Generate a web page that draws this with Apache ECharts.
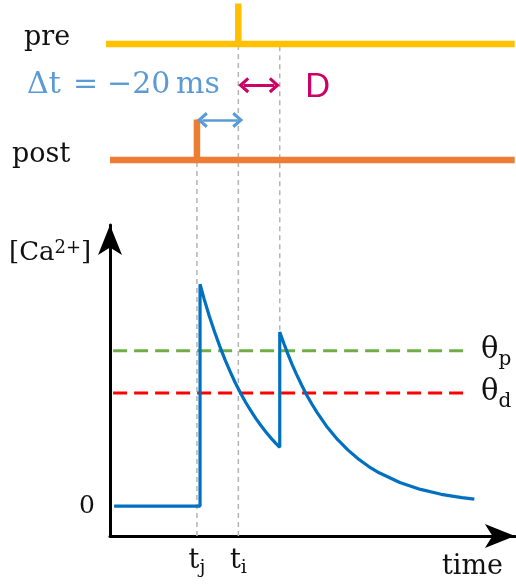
<!DOCTYPE html>
<html>
<head>
<meta charset="utf-8">
<script src="https://cdn.jsdelivr.net/npm/echarts@6/dist/echarts.min.js"></script>
<style>
html,body{margin:0;padding:0;background:#fff;}
#stdp{width:516px;height:584px;}
</style>
</head>
<body>
<div id="stdp"></div>
<script>
// time in ms, calcium in units of the first peak
var caTime  = [2, 43.5, 43.5, 45.5, 48, 50.5, 53, 55.5, 58, 60.5, 63, 65.5, 68, 70.5, 73, 75.5, 78, 80, 82,
               82, 84, 86, 88, 90, 92.5, 95, 97.5, 100, 105, 110, 115, 120, 125, 130, 140, 150, 160, 170, 176];
var caLevel = [0, 0, 1.0, 0.933, 0.856, 0.786, 0.721, 0.661, 0.607, 0.556, 0.511, 0.468, 0.43, 0.394, 0.362, 0.332, 0.304, 0.284, 0.265,
               0.785, 0.733, 0.684, 0.638, 0.596, 0.547, 0.501, 0.46, 0.422, 0.355, 0.299, 0.252, 0.212, 0.178, 0.15, 0.106, 0.075, 0.053, 0.038, 0.031];
var tJ = 42;          // post spike
var tI = 62;          // pre spike
var dWin = 20;        // D
var preSpikes = [tI];
var postSpikes = [tJ];
var thetaNames = ['p', 'd'];
var thetaValues = [0.70, 0.51];
var thetaSpan = [1.5, 171];
var tickTimes = [tJ, tI];
var tickNames = ['j', 'i'];
var dtLabel = ['Δt', '=', '−20', 'ms'];

window.onload = init;
function init() {
    var chart = echarts.init(document.getElementById('stdp'));
    var serif = '"DejaVu Serif", serif';
    var spikeHeight = 0.7;
    var thetaColors = ['#70ad47', '#ff0000'];
    var chevron = 'path://M6,0 L12,8 L10.2,9.8 L6,4.2 L1.8,9.8 L0,8 Z';
    var dtX = [27, 73, 107, 176];

    function raster(start, end, level, spikes) {
        var pts = [[start, level]];
        spikes.forEach(function (t) {
            pts.push([t, level], [t, level + spikeHeight], [t, level]);
        });
        pts.push([end, level]);
        return pts;
    }

    var caData = caTime.map(function (t, i) { return [t, caLevel[i]]; });

    var series = [
        {
            name: 'pre', type: 'line', xAxisIndex: 0, yAxisIndex: 0, clip: false,
            data: raster(-2.4, 195.5, 2, preSpikes), symbol: 'none', z: 4,
            lineStyle: { color: '#ffc000', width: 6.5, join: 'bevel' },
            markLine: {
                silent: true, symbol: [chevron, chevron], symbolSize: [16, 11],
                label: { show: false },
                lineStyle: { color: '#cc0066', width: 3, type: 'solid' },
                data: [[{ coord: [tI + 2.6, 1.29] }, { coord: [tI + dWin - 2.6, 1.29] }]]
            }
        },
        {
            name: 'post', type: 'line', xAxisIndex: 0, yAxisIndex: 0, clip: false,
            data: raster(0, 195.5, 0, postSpikes), symbol: 'none', z: 4,
            lineStyle: { color: '#ed7d31', width: 6.5, join: 'bevel' },
            markLine: {
                silent: true, symbol: [chevron, chevron], symbolSize: [16, 11],
                label: { show: false },
                lineStyle: { color: '#5b9bd5', width: 2.5, type: 'solid' },
                data: [[{ coord: [tJ + 2.6, 0.69] }, { coord: [tI - 0.3, 0.69] }]]
            }
        },
        {
            name: 'Ca', type: 'line', xAxisIndex: 1, yAxisIndex: 1, data: caData,
            symbol: 'none', z: 5, lineStyle: { color: '#0070c0', width: 3.2 }
        }
    ];
    thetaValues.forEach(function (v, i) {
        series.push({
            name: 'theta' + thetaNames[i], type: 'line', xAxisIndex: 1, yAxisIndex: 1,
            data: [[thetaSpan[0], v], [thetaSpan[1], v]], symbol: 'none', z: 3,
            lineStyle: { color: thetaColors[i], width: 3, type: [14, 7] },
            endLabel: {
                show: true, distance: 17,
                formatter: '{a|θ}{b|' + thetaNames[i] + '}',
                rich: {
                    a: { fontFamily: serif, fontSize: 29, color: '#111', lineHeight: 38 },
                    b: { fontFamily: serif, fontSize: 20, color: '#111', verticalAlign: 'bottom', lineHeight: 20 }
                }
            }
        });
    });

    var texts = [
        { type: 'text', style: { x: 24, y: 38, text: 'pre', font: '27px ' + serif, fill: '#111', verticalAlign: 'middle' } },
        { type: 'text', style: { x: 12, y: 155, text: 'post', font: '27px ' + serif, fill: '#111', verticalAlign: 'middle' } },
        { type: 'text', style: { x: 305, y: 86, text: 'D', font: '33px Lato, sans-serif', fill: '#cc0066', verticalAlign: 'middle' } },
        { type: 'text', style: { x: 442, y: 567, text: 'time', font: '27px ' + serif, fill: '#111', verticalAlign: 'middle' } },
        {
            type: 'text', style: {
                x: 9, y: 253, text: '{b|[Ca}{s|2+}{b|]}', verticalAlign: 'middle',
                rich: {
                    b: { fontFamily: serif, fontSize: 26, lineHeight: 28, fill: '#111' },
                    s: { fontFamily: serif, fontSize: 18, verticalAlign: 'top', lineHeight: 18, fill: '#111' }
                }
            }
        }
    ];
    dtLabel.forEach(function (s, i) {
        texts.push({ type: 'text', style: { x: dtX[i], y: 85, text: s, font: '30px ' + serif, fill: '#5b9bd5', verticalAlign: 'middle' } });
    });

    var option = {
        animation: false,
        backgroundColor: '#fff',
        grid: [
            { left: 110, top: 0, width: 404.9, height: 171.6 },
            { left: 110, top: 225, width: 404.9, height: 311 }
        ],
        xAxis: [
            { type: 'value', gridIndex: 0, min: 0, max: 195.6, show: false },
            {
                type: 'value', gridIndex: 1, min: 0, max: 195.6,
                axisLine: { show: true, onZero: false, symbol: ['none', 'arrow'], symbolSize: [18, 30], lineStyle: { color: '#000', width: 3 } },
                axisTick: { show: false }, splitLine: { show: false },
                axisLabel: {
                    customValues: tickTimes, margin: 8,
                    formatter: function (v) { return '{t|t}{s|' + tickNames[tickTimes.indexOf(v)] + '}'; },
                    rich: {
                        t: { fontFamily: serif, fontSize: 27, color: '#111', lineHeight: 34 },
                        s: { fontFamily: serif, fontSize: 19, color: '#111', verticalAlign: 'bottom', lineHeight: 19 }
                    }
                }
            }
        ],
        yAxis: [
            { type: 'value', gridIndex: 0, min: -0.2, max: 2.76, show: false },
            {
                type: 'value', gridIndex: 1, min: -0.135, max: 1.267,
                axisLine: { show: true, onZero: false, symbol: ['none', 'arrow'], symbolSize: [18, 30], lineStyle: { color: '#000', width: 3 } },
                axisTick: { show: false }, splitLine: { show: false },
                axisLabel: { customValues: [0], margin: 15, fontFamily: serif, fontSize: 25, color: '#111' }
            }
        ],
        graphic: texts,
        series: series
    };
    chart.setOption(option);

    // guide lines: from the spikes in the raster down to the time axis / curve
    var guides = [
        { t: tJ, topLevel: spikeHeight, bottom: -0.135 },
        { t: tI, topLevel: 2, bottom: -0.135 },
        { t: tI + dWin, topLevel: 2, bottom: caLevel[caTime.indexOf(tI + dWin)] }
    ];
    var guideSeries = guides.map(function (g, i) {
        var px = chart.convertToPixel({ gridIndex: 0 }, [g.t, g.topLevel]);
        var top = chart.convertFromPixel({ gridIndex: 1 }, px);
        return {
            id: 'guide' + i, type: 'line', xAxisIndex: 1, yAxisIndex: 1, clip: false,
            data: [[g.t, g.bottom], [g.t, top[1]]], symbol: 'none', z: 1, silent: true,
            lineStyle: { color: '#b4b4b4', width: 1.5, type: [5, 4] }
        };
    });
    chart.setOption({ series: series.concat(guideSeries) });
}
</script>
</body>
</html>
